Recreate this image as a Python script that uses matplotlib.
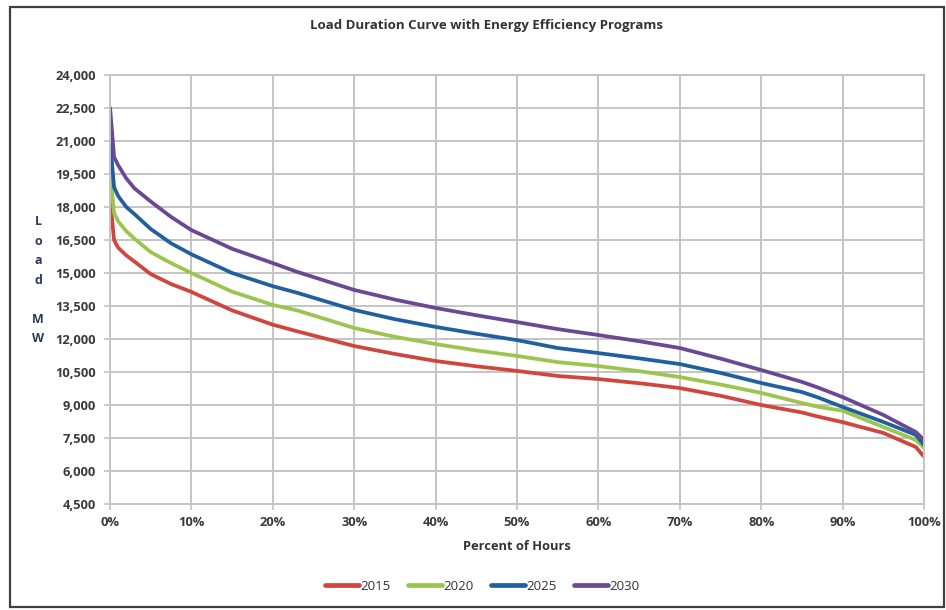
import matplotlib
matplotlib.use("Agg")
import matplotlib.pyplot as plt
from matplotlib.ticker import FuncFormatter, MultipleLocator
from matplotlib.patches import Rectangle

pct = [0, 0.5, 1, 2, 3, 5, 7.5, 10, 15, 20, 23, 30, 35, 40, 45, 50, 55, 60, 65, 70, 75, 80, 85, 87, 90, 95, 99, 100]
load_2015 = [18400, 16500, 16150, 15800, 15520, 14950, 14500, 14140, 13300, 12650, 12350, 11680, 11320, 11000,
             10760, 10550, 10320, 10180, 9990, 9770, 9420, 9000, 8660, 8470, 8220, 7730, 7090, 6650]
load_2020 = [19680, 17730, 17350, 16900, 16560, 15950, 15450, 15000, 14150, 13550, 13300, 12500, 12100, 11770,
             11480, 11230, 10950, 10770, 10540, 10270, 9930, 9550, 9090, 8920, 8740, 8000, 7410, 7050]
load_2025 = [21050, 18900, 18500, 18000, 17680, 17000, 16350, 15850, 15000, 14400, 14100, 13320, 12900, 12550,
             12240, 11950, 11590, 11360, 11120, 10860, 10460, 10000, 9590, 9340, 8910, 8230, 7640, 7180]
load_2030 = [22550, 20270, 19900, 19300, 18850, 18250, 17550, 16950, 16100, 15450, 15050, 14230, 13790, 13410,
             13080, 12770, 12450, 12180, 11900, 11590, 11110, 10590, 10050, 9790, 9360, 8550, 7770, 7410]
series_names = ["2015", "2020", "2025", "2030"]
series_colors = ["#D0463F", "#9CC54E", "#21609E", "#6A4893"]

title = "Load Duration Curve with Energy Efficiency Programs"
xlabel = "Percent of Hours"

plt.rcParams['font.family'] = ['Open Sans', 'DejaVu Sans']

fig = plt.figure(figsize=(9.46, 6.10), dpi=100)
ax = fig.add_axes([110/946, 1-504/610, (924-110)/946, (504-75)/610])

for vals, name, col in zip([load_2015, load_2020, load_2025, load_2030], series_names, series_colors):
    ax.plot(pct, vals, color=col, lw=2.7, label=name, solid_capstyle='butt', solid_joinstyle='round')

ax.set_xlim(0, 100)
ax.set_ylim(4500, 24000)
ax.xaxis.set_major_locator(MultipleLocator(10))
ax.yaxis.set_major_locator(MultipleLocator(1500))
ax.xaxis.set_major_formatter(FuncFormatter(lambda v, p: f"{int(round(v))}%"))
ax.yaxis.set_major_formatter(FuncFormatter(lambda v, p: f"{int(v):,}"))
ax.grid(True, color="#c4c4c4", lw=1.4)
ax.set_axisbelow(True)
for s in ax.spines.values():
    s.set_color("#c4c4c4")
    s.set_linewidth(1.4)
ax.tick_params(axis='both', colors="#c4c4c4", length=4, width=1.2, labelcolor="#3a3a3a",
               labelsize=9.3)
for lab in ax.get_xticklabels() + ax.get_yticklabels():
    lab.set_fontweight('bold')
ax.tick_params(axis='y', pad=6)
ax.tick_params(axis='x', pad=5)

fig.text(486/946, 1-25/610, title, ha='center', va='center', fontsize=9.5, fontweight='bold', color="#333333")
fig.text(517/946, 1-547/610, xlabel, ha='center', va='center', fontsize=9.3, fontweight='bold', color="#333333")
fig.text(38/946, 1-280/610, "L\no\na\nd\n\nM\nW", ha='center', va='center', fontsize=9,
         fontweight='bold', color="#2e3a55", linespacing=1.65)

handles, labels = ax.get_legend_handles_labels()
leg = fig.legend(handles, labels, loc='center', bbox_to_anchor=(482/946, 1-586/610), ncol=4, frameon=False,
                 fontsize=9.5, handlelength=2.6, handletextpad=0.1, columnspacing=1.3)
for t in leg.get_texts():
    t.set_color("#333333")
for l in leg.get_lines():
    l.set_linewidth(3.4)
    l.set_solid_capstyle('round')

fig.add_artist(Rectangle((10/946, 1-607/610), (944-10)/946, (607-7)/610, transform=fig.transFigure,
                         fill=False, edgecolor="#404040", lw=1.6))

fig.savefig("out.png", dpi=100)
